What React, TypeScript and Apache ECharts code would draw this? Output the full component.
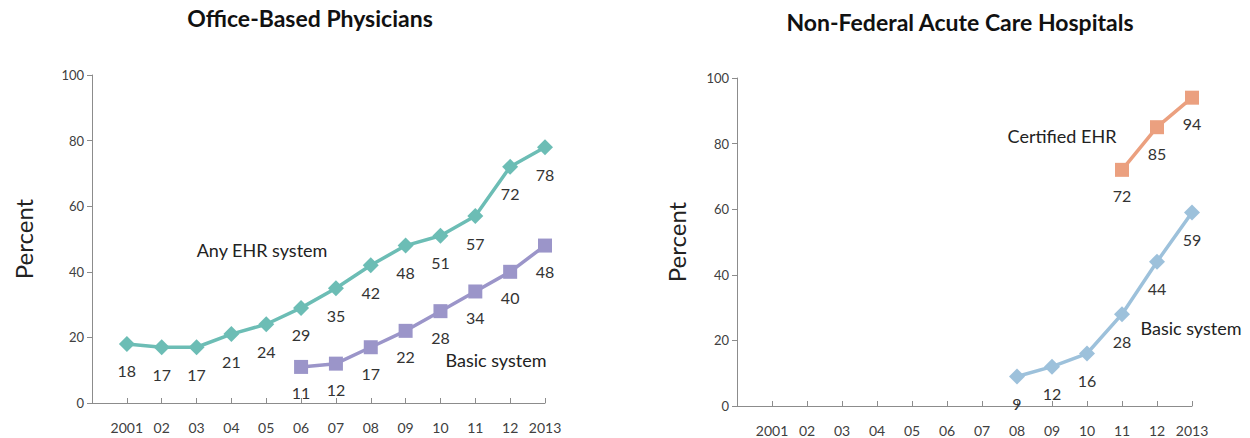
import { useEffect, useRef } from "react";
import * as echarts from "echarts";

const years = ["", "2001", "02", "03", "04", "05", "06", "07", "08", "09", "10", "11", "12", "2013"];
const yTicks = [0, 20, 40, 60, 80, 100];

const officeAny = [null, 18, 17, 17, 21, 24, 29, 35, 42, 48, 51, 57, 72, 78];
const officeBasic = [null, null, null, null, null, null, 11, 12, 17, 22, 28, 34, 40, 48];
const hospBasic = [null, null, null, null, null, null, null, null, 9, 12, 16, 28, 44, 59];
const hospCert = [null, null, null, null, null, null, null, null, null, null, null, 72, 85, 94];

const titles = ["Office-Based Physicians", "Non-Federal Acute Care Hospitals"];
const seriesNames = ["Any EHR system", "Basic system", "Certified EHR", "Basic system"];

const FONT = "Lato, 'Noto Sans', sans-serif";

export default function App() {
  const ref = useRef<HTMLDivElement>(null);
  useEffect(() => {
    const chart = echarts.init(ref.current!, null, { renderer: "svg" });
    const xAxisBase = (gridIndex: number) => ({
      type: "category",
      gridIndex,
      data: years,
      boundaryGap: false,
      axisLine: { show: true, lineStyle: { color: "#8c8c8c", width: 1 } },
      axisTick: { show: true, inside: true, length: 5, interval: 0, lineStyle: { color: "#8c8c8c" } },
      axisLabel: { interval: 0, margin: 17, color: "#404040", fontSize: 14, fontFamily: FONT },
      splitLine: { show: false },
    });
    const yAxisBase = (gridIndex: number, gap: number) => ({
      type: "value",
      gridIndex,
      min: yTicks[0],
      max: yTicks[yTicks.length - 1],
      interval: 20,
      name: "Percent",
      nameLocation: "middle",
      nameRotate: 90,
      nameGap: gap,
      nameTextStyle: { fontSize: 24, color: "#222", fontFamily: FONT },
      axisLine: { show: true, lineStyle: { color: "#8c8c8c", width: 1 } },
      axisTick: { show: true, length: 5, lineStyle: { color: "#8c8c8c" } },
      axisLabel: { margin: 8, color: "#404040", fontSize: 13, fontFamily: FONT },
      splitLine: { show: false },
    });
    const lbl = {
      show: true,
      position: "bottom",
      distance: 11,
      fontSize: 16,
      color: "#333",
      fontFamily: FONT,
    };
    const mkSeries = (data: (number | null)[], color: string, symbol: string, size: number, idx: number) => ({
      type: "line",
      xAxisIndex: idx,
      yAxisIndex: idx,
      data,
      symbol,
      symbolSize: size,
      connectNulls: false,
      lineStyle: { color, width: 3.5 },
      itemStyle: { color },
      label: lbl,
    });
    const txt = (text: string, x: number, y: number, size: number, bold = false) => ({
      type: "text",
      x,
      y,
      style: {
        text,
        fontSize: size,
        fontWeight: bold ? "bold" : "normal",
        fontFamily: FONT,
        fill: bold ? "#111" : "#222",
        textAlign: "center",
        textVerticalAlign: "middle",
      },
    });
    chart.setOption({
      animation: false,
      backgroundColor: "#ffffff",
      grid: [
        { left: 92, top: 75, width: 453, height: 328 },
        { left: 737, top: 78, width: 455, height: 328 },
      ],
      xAxis: [xAxisBase(0), xAxisBase(1)],
      yAxis: [yAxisBase(0, 57), yAxisBase(1, 49)],
      series: [
        mkSeries(officeAny, "#6cbdb5", "diamond", 16, 0),
        mkSeries(officeBasic, "#9b95c9", "rect", 14, 0),
        mkSeries(hospBasic, "#9dc1db", "diamond", 16, 1),
        mkSeries(hospCert, "#eba07f", "rect", 14, 1),
      ],
      graphic: [
        txt(titles[0], 310, 18, 23, true),
        txt(titles[1], 960, 22, 23, true),
        txt(seriesNames[0], 262, 250, 18),
        txt(seriesNames[1], 496, 360, 18),
        txt(seriesNames[2], 1062, 136, 18),
        txt(seriesNames[3], 1191, 328, 18),
      ],
    });
    return () => chart.dispose();
  }, []);
  return (
    <div
      ref={ref}
      style={{ position: "fixed", left: 0, top: 0, width: 1250, height: 438, background: "#fff" }}
    />
  );
}
